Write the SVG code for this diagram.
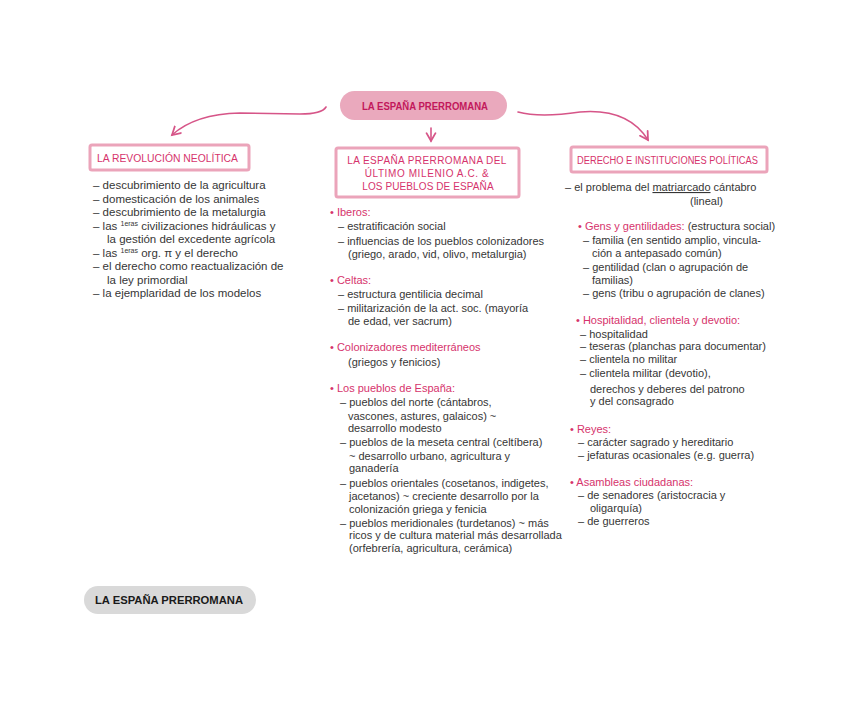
<svg xmlns="http://www.w3.org/2000/svg" width="848" height="709" viewBox="0 0 848 709">
<defs>
<style>
text{font-family:"Liberation Sans","DejaVu Sans",sans-serif;font-size:11px}
.t{fill:#363636}
.p{fill:#d6336c}
.l{font-size:11.5px}
.h{fill:#d6336c;font-size:10px}
.box{fill:#ffffff;stroke:#eba4ba;stroke-width:3}
.con{fill:none;stroke:#d65588;stroke-width:1.6;stroke-linecap:round}
</style>
<marker id="ah" viewBox="0 0 10 10" refX="8" refY="5" markerWidth="7" markerHeight="7" orient="auto-start-reverse">
<path d="M1,1 L8,5 L1,9" fill="none" stroke="#d65588" stroke-width="1.6" stroke-linecap="round"/>
</marker>
</defs>
<rect width="848" height="709" fill="#ffffff"/>

<g id="connectors">
<path class="con" d="M326,107 Q322,114 300,114 L240,113 Q195,114 172,135" marker-end="url(#ah)"/>
<path class="con" d="M431,128 L431,141" marker-end="url(#ah)"/>
<path class="con" d="M518,112 Q540,118 580,112 Q628,108 648,140" marker-end="url(#ah)"/>
</g>

<g id="title">
<rect x="340" y="91" width="167" height="29" rx="14.5" fill="#eaa9bd"/>
<text x="362" y="109.5" font-size="9.5" font-weight="bold" fill="#c2185b" textLength="126" lengthAdjust="spacingAndGlyphs">LA ESPAÑA PRERROMANA</text>
</g>

<g id="neolitica">
<rect class="box" x="90" y="145" width="159" height="25" rx="2"/>
<text class="h" x="97" y="162" textLength="141" lengthAdjust="spacingAndGlyphs">LA REVOLUCIÓN NEOLÍTICA</text>
<text class="t l" x="93" y="189">–  descubrimiento de la agricultura</text>
<text class="t l" x="93" y="203">–  domesticación de los animales</text>
<text class="t l" x="93" y="216">–  descubrimiento de la metalurgia</text>
<text class="t l" x="93" y="230">–  las <tspan font-size="7" dy="-4">1eras</tspan><tspan dy="4"> civilizaciones hidráulicas  y</tspan></text>
<text class="t l" x="107" y="243">la gestión del excedente agrícola</text>
<text class="t l" x="93" y="257">–  las <tspan font-size="7" dy="-4">1eras</tspan><tspan dy="4"> org. π  y el derecho</tspan></text>
<text class="t l" x="93" y="270">–  el derecho como reactualización de</text>
<text class="t l" x="107" y="284">la ley primordial</text>
<text class="t l" x="93" y="297">–  la ejemplaridad de los modelos</text>
</g>

<g id="espana">
<rect class="box" x="336" y="148" width="183" height="49" rx="2"/>
<text class="h" x="427" y="164" text-anchor="middle" letter-spacing="0.4">LA ESPAÑA PRERROMANA DEL</text>
<text class="h" x="427" y="177" text-anchor="middle" letter-spacing="0.6">ÚLTIMO MILENIO A.C. &amp;</text>
<text class="h" x="428" y="190" text-anchor="middle" letter-spacing="0.1">LOS PUEBLOS DE ESPAÑA</text>

<text class="p" x="330" y="216">• Iberos:</text>
<text class="t" x="338" y="230">–  estratificación social</text>
<text class="t" x="338" y="245">–  influencias de los pueblos colonizadores</text>
<text class="t" x="348" y="258">(griego, arado, vid, olivo, metalurgia)</text>

<text class="p" x="330" y="284">• Celtas:</text>
<text class="t" x="338" y="298">–  estructura gentilicia decimal</text>
<text class="t" x="338" y="312">–  militarización de la act. soc. (mayoría</text>
<text class="t" x="348" y="325">de edad, ver sacrum)</text>

<text class="p" x="330" y="351">• Colonizadores mediterráneos</text>
<text class="t" x="348" y="366">(griegos y fenicios)</text>

<text class="p" x="330" y="392">• Los pueblos de España:</text>
<text class="t" x="340" y="406">–  pueblos del norte (cántabros,</text>
<text class="t" x="348" y="420">vascones, astures, galaicos) ~</text>
<text class="t" x="348" y="432">desarrollo modesto</text>
<text class="t" x="340" y="446">– pueblos de la meseta central (celtíbera)</text>
<text class="t" x="349" y="460">~ desarrollo urbano, agricultura y</text>
<text class="t" x="349" y="472">ganadería</text>
<text class="t" x="340" y="487">–  pueblos orientales (cosetanos, indigetes,</text>
<text class="t" x="349" y="500">jacetanos) ~ creciente desarrollo por la</text>
<text class="t" x="349" y="513">colonización griega y fenicia</text>
<text class="t" x="340" y="527">–  pueblos meridionales (turdetanos) ~ más</text>
<text class="t" x="349" y="539">ricos y de cultura material más desarrollada</text>
<text class="t" x="349" y="552">(orfebrería, agricultura, cerámica)</text>
</g>

<g id="derecho">
<rect class="box" x="571" y="147" width="196" height="25" rx="2"/>
<text class="h" x="577" y="164" textLength="181" lengthAdjust="spacingAndGlyphs">DERECHO E INSTITUCIONES POLÍTICAS</text>
<text class="t" x="565" y="191">–  el problema del <tspan text-decoration="underline">matriarcado</tspan> cántabro</text>
<text class="t" x="690" y="205" font-size="9">(lineal)</text>

<text class="p" x="578" y="230">• Gens y gentilidades: <tspan class="t">(estructura social)</tspan></text>
<text class="t" x="583" y="244">–  familia (en sentido amplio, vincula-</text>
<text class="t" x="592" y="257">ción a antepasado común)</text>
<text class="t" x="583" y="271">–  gentilidad (clan o agrupación de</text>
<text class="t" x="592" y="284">familias)</text>
<text class="t" x="583" y="297">–  gens (tribu o agrupación de clanes)</text>

<text class="p" x="576" y="324">• Hospitalidad, clientela y devotio:</text>
<text class="t" x="580" y="338">–  hospitalidad</text>
<text class="t" x="580" y="350">–  teseras (planchas para documentar)</text>
<text class="t" x="580" y="363">–  clientela no militar</text>
<text class="t" x="580" y="377">–  clientela militar (devotio),</text>
<text class="t" x="590" y="393">derechos y deberes del patrono</text>
<text class="t" x="590" y="405">y del consagrado</text>

<text class="p" x="570" y="433">• Reyes:</text>
<text class="t" x="578" y="446">– carácter sagrado y hereditario</text>
<text class="t" x="578" y="459">– jefaturas ocasionales (e.g. guerra)</text>

<text class="p" x="570" y="486">• Asambleas ciudadanas:</text>
<text class="t" x="578" y="499">–  de senadores (aristocracia y</text>
<text class="t" x="590" y="512">oligarquía)</text>
<text class="t" x="578" y="525">–  de guerreros</text>
</g>

<g id="footer">
<rect x="84" y="586" width="172" height="28" rx="14" fill="#d9d9d9"/>
<text x="95" y="604" font-size="9.5" font-weight="bold" fill="#1a1a1a" textLength="148" lengthAdjust="spacingAndGlyphs">LA ESPAÑA PRERROMANA</text>
</g>
</svg>
